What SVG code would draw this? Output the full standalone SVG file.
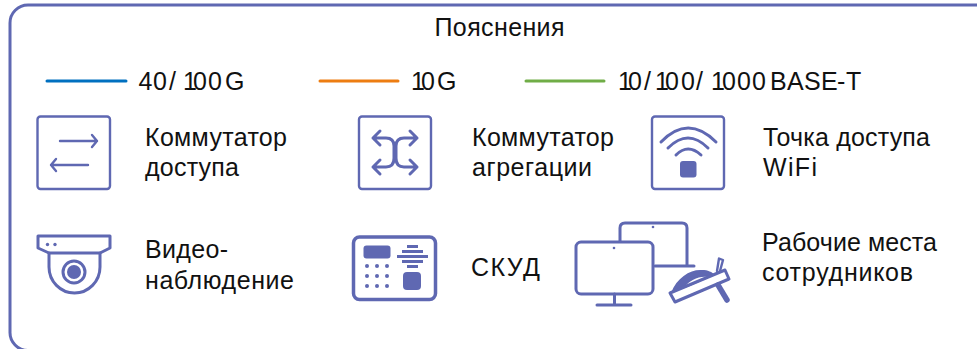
<svg xmlns="http://www.w3.org/2000/svg" width="978" height="349" viewBox="0 0 978 349">
<style>
text{font-family:"Liberation Sans",Arial,sans-serif;font-size:25px;fill:#111}
.s{fill:none;stroke:#5F68B2;stroke-width:2.400;stroke-linecap:round;stroke-linejoin:round}
.t{fill:none;stroke:#5F68B2;stroke-width:3;stroke-linecap:round;stroke-linejoin:round}
.f{fill:#5F68B2}
.l{stroke-width:3;stroke-linecap:round;fill:none}
</style>
<rect width="978" height="349" fill="#fff"/>
<path id="frame" d="M977 5H28A18 18 0 0 0 10 23V332A18 18 0 0 0 28 350.500" fill="none" stroke="#5F68B2" stroke-width="3"/>
<text id="title" x="434.500" y="36" textLength="130">Пояснения</text>
<g id="legend">
<path class="l" stroke="#0070C0" d="M47 81H126"/>
<text x="138.500 153 169 183 193 208 225" y="90">40/100G</text>
<path class="l" stroke="#ED7D11" d="M320 81H398"/>
<text x="411 421 437" y="90">10G</text>
<path class="l" stroke="#70AD47" d="M526 81H604"/>
<text x="618 628 644 655 665 681 696 711 722 737 752 770 787 804 821 837 846" y="90">10/100/1000BASE-T</text>
</g>
<g id="sw-access">
<rect class="s" x="37.500" y="116.500" width="72.500" height="72.500" rx="3"/>
<path class="s" d="M60 141H97M92 135L97 141L92 147M88 165H51M56 159L51 165L56 171"/>
<text x="145" y="146" textLength="142">Коммутатор</text><text x="145" y="176" textLength="94">доступа</text>
</g>
<g id="sw-agg">
<rect class="s" x="359" y="116.500" width="72" height="72.500" rx="3"/>
<path class="t" d="M373 138H386Q394 138 394 146V158Q394 167 386 167H373M417 138H404Q396 138 396 146V158Q396 167 404 167H417M380 131L373 138L380 145M410 131L417 138L410 145M380 160L373 167L380 174M410 160L417 167L410 174"/>
<text x="472" y="146" textLength="142">Коммутатор</text><text x="472" y="176" textLength="120">агрегации</text>
</g>
<g id="ap">
<rect class="s" x="652" y="116.500" width="72" height="72.500" rx="3"/>
<path class="t" d="M661 142Q688 114 716 142M668 148Q688 128 708 148M676 155Q688 143 701 155"/>
<rect class="f" x="680" y="161" width="16.500" height="16.500" rx="3"/>
<text x="763" y="146" textLength="167">Точка доступа</text><text x="763" y="176" textLength="54">WiFi</text>
</g>
<g id="camera">
<path class="t" d="M38 236H110V248L100 253H49L38 248Z"/>
<path class="t" d="M49 253V267A25.500 26 0 0 0 100 267V253"/>
<circle cx="74" cy="272" r="11" fill="none" stroke="#5F68B2" stroke-width="3"/>
<circle class="f" cx="74" cy="272" r="7"/>
<circle class="f" cx="47.500" cy="244.500" r="1.700"/><circle class="f" cx="55" cy="244.500" r="1.700"/>
<text x="145" y="258" textLength="83">Видео-</text><text x="145" y="289" textLength="149">наблюдение</text>
</g>
<g id="skud">
<rect x="353.500" y="237" width="82" height="62.500" rx="6" fill="none" stroke="#5F68B2" stroke-width="3.500"/>
<rect class="f" x="363.500" y="245.500" width="27" height="13" rx="3"/>
<path stroke="#5F68B2" stroke-width="3" d="M407 246.500H418M402 251.500H423M397 256.500H428M402 261.500H423M407 266.500H418"/>
<g class="f"><circle cx="367" cy="266" r="2"/><circle cx="377" cy="266" r="2"/><circle cx="387" cy="266" r="2"/><circle cx="367" cy="276" r="2"/><circle cx="377" cy="276" r="2"/><circle cx="387" cy="276" r="2"/><circle cx="367" cy="286" r="2"/><circle cx="377" cy="286" r="2"/><circle cx="387" cy="286" r="2"/></g>
<rect class="f" x="403" y="272" width="18" height="18" rx="4"/>
<text x="471" y="276" textLength="69">СКУД</text>
</g>
<g id="workplaces">
<rect class="t" x="576" y="242" width="77" height="52" rx="5"/>
<path class="t" d="M614.500 294V305M597 305H631"/>
<circle class="f" cx="614" cy="248" r="1.300"/>
<path class="t" d="M620 241V228Q620 223 625 223H682Q687 223 687 228V266M655 266H694"/>
<circle class="f" cx="653" cy="227" r="1.300"/>
<path class="f" d="M671 293C677 277 691 269 702 270C708 270 712 272 715 275L690 286Z"/>
<path fill="#fff" d="M684 288C690 280 698 276 708 277L690 285Z"/>
<path class="t" d="M670 293L725 270L729 279L675 302Z"/>
<path class="s" d="M717 271L719 258.500L723 260L720 271"/>
<path stroke="#5F68B2" stroke-width="5.500" stroke-linecap="round" d="M718 285L727 300"/>
<text x="762" y="251" textLength="175">Рабочие места</text><text x="762" y="281" textLength="151">сотрудников</text>
</g>
</svg>
